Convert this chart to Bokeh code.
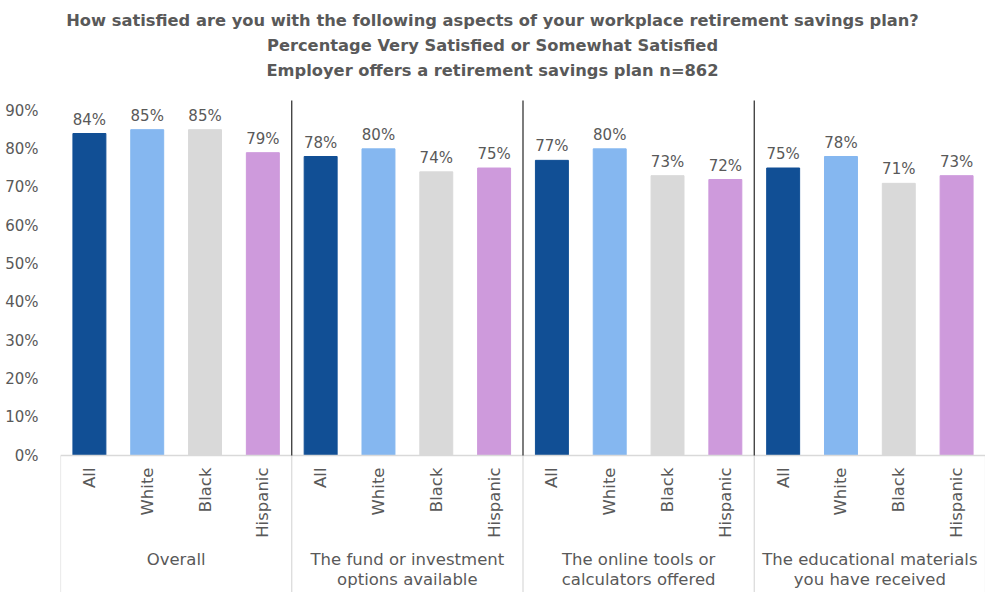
import numpy as np
from bokeh.plotting import figure
from bokeh.models import ColumnDataSource, FixedTicker, Range1d
from bokeh.core.properties import value
from bokeh.embed import file_html
from bokeh.resources import INLINE

# ---- data ----
aspects = ["Overall", "The fund or investment\noptions available",
           "The online tools or\ncalculators offered",
           "The educational materials\nyou have received"]
groups = ["All", "White", "Black", "Hispanic"]
pct_all = [84, 78, 77, 75]
pct_white = [85, 80, 80, 78]
pct_black = [85, 74, 73, 71]
pct_hispanic = [79, 75, 72, 73]
y_ticks = [0, 10, 20, 30, 40, 50, 60, 70, 80, 90]
title_lines = ["How satisfied are you with the following aspects of your workplace retirement savings plan?",
               "Percentage Very Satisfied or Somewhat Satisfied",
               "Employer offers a retirement savings plan n=862"]

colors = {"All": "#114F95", "White": "#85B7F0", "Black": "#D9D9D9", "Hispanic": "#CE9ADC"}
FONT = "DejaVu Sans"
TXT = "#595959"

series = {"All": pct_all, "White": pct_white, "Black": pct_black, "Hispanic": pct_hispanic}

xs, tops, cols, cats, labs = [], [], [], [], []
for a in range(len(aspects)):
    for g, name in enumerate(groups):
        v = series[name][a] / 100.0
        xs.append(a * len(groups) + g + 0.5)
        tops.append(v)
        cols.append(colors[name])
        cats.append(name)
        labs.append(f"{series[name][a]}%")

src = ColumnDataSource(dict(x=xs, top=tops, color=cols, cat=cats, lab=labs, zero=[0.0] * len(xs)))

W, H = 985, 592
n_slots = len(aspects) * len(groups)
p = figure(width=W, height=H, output_backend="svg", toolbar_location=None,
           x_range=Range1d(0, n_slots), y_range=Range1d(-0.3574, 1.187),
           min_border_left=60, min_border_right=0, min_border_top=0, min_border_bottom=0)
p.outline_line_color = None
p.xgrid.visible = False
p.ygrid.visible = False
p.xaxis.visible = False
p.background_fill_color = "white"
p.border_fill_color = "white"

ya = p.yaxis[0]
ya.ticker = FixedTicker(ticks=[t / 100 for t in y_ticks])
ya.major_label_overrides = {t / 100: f"{t}%" for t in y_ticks}
ya.axis_line_color = None
ya.major_tick_line_color = None
ya.minor_tick_line_color = None
ya.major_label_standoff = 16
ya.major_label_text_font = FONT
ya.major_label_text_font_size = "15px"
ya.major_label_text_color = TXT

# bars
p.vbar(x="x", top="top", bottom=0, width=0.57, color="color", source=src)

# value labels
p.text(x="x", y="top", text="lab", source=src, text_align="center", text_baseline="bottom",
       y_offset=-5, text_font=value(FONT), text_font_size="15px", text_color=TXT)

# category labels (rotated)
p.text(x="x", y="zero", text="cat", source=src, angle=np.pi / 2, text_align="right",
       text_baseline="middle", y_offset=12, text_font=value(FONT), text_font_size="16.5px",
       text_color=TXT)

# group labels
gsrc = ColumnDataSource(dict(x=[a * len(groups) + len(groups) / 2 for a in range(len(aspects))],
                             y=[0.0] * len(aspects), t=aspects))
p.text(x="x", y="y", text="t", source=gsrc, text_align="center", text_baseline="top",
       y_offset=94, text_font=value(FONT), text_font_size="16.5px", text_color=TXT,
       text_line_height=1.1)

# axis line
p.segment(x0=[0], y0=[0], x1=[n_slots], y1=[0], line_color="#D9D9D9", line_width=1.5)

# separators
bounds = [a * len(groups) for a in range(len(aspects) + 1)]
p.segment(x0=bounds, y0=[0] * len(bounds), x1=bounds, y1=[-1] * len(bounds),
          line_color="#D9D9D9", line_width=1.2)
inner = bounds[1:-1]
p.segment(x0=inner, y0=[0] * len(inner), x1=inner, y1=[0.926] * len(inner),
          line_color="#262626", line_width=1.2)

# title
tsrc = ColumnDataSource(dict(x=[(492 - 60) / (925 / n_slots)] * 3, y=[1.187] * 3, t=title_lines,
                             off=[20, 45, 70]))
p.text(x="x", y="y", text="t", source=tsrc, y_offset="off", text_align="center",
       text_baseline="middle", text_font=value(FONT), text_font_style="bold",
       text_font_size="16.3px", text_color=TXT)

open("out.html", "w").write(file_html(p, INLINE))
